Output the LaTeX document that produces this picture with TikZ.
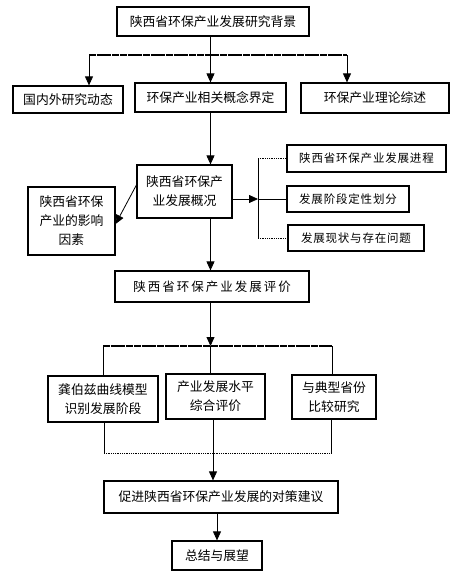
\documentclass[tikz,border=0pt]{standalone}
\usepackage{fontspec}
\newfontfamily\cjk{Noto Sans CJK SC}
\usetikzlibrary{arrows.meta}
\begin{document}
\begin{tikzpicture}[x=1pt,y=-1pt,
  box/.style={draw,line width=1.2pt,inner sep=0pt,align=center,font=\cjk\fontsize{12.8}{19}\selectfont},
  sbox/.style={box,font=\cjk\fontsize{11.5}{19}\selectfont\addfontfeature{LetterSpace=7}},
  arr/.style={-{Triangle[width=8pt,length=9pt]},line width=0.8pt},
  ln/.style={line width=0.8pt},
  busline/.style={line width=1.3pt,dash pattern=on 7pt off 0.7pt},
  dotline/.style={line width=0.8pt,densely dotted}]
\useasboundingbox (0,0) rectangle (459,579);
\node[box,minimum width=192pt,minimum height=29pt] (top) at (213,21.5) {陕西省环保产业发展研究背景};
\node[box,minimum width=110pt,minimum height=27pt] (n1) at (68,99.5) {国内外研究动态};
\node[box,minimum width=151pt,minimum height=29pt] (n2) at (210.5,97.5) {环保产业相关概念界定};
\node[box,minimum width=148pt,minimum height=30pt] (n3) at (375,98) {环保产业理论综述};
\node[box,minimum width=95pt,minimum height=53pt] (ov) at (184.5,191.5) {陕西省环保产\\业发展概况};
\node[box,minimum width=87pt,minimum height=68pt] (inf) at (71.5,221) {陕西省环保\\产业的影响\\因素};
\node[sbox,minimum width=159pt,minimum height=27pt] (r1) at (366.5,158.5) {陕西省环保产业发展进程};
\node[sbox,minimum width=122pt,minimum height=26pt] (r2) at (348,199) {发展阶段定性划分};
\node[sbox,minimum width=136pt,minimum height=26pt] (r3) at (356,238) {发展现状与存在问题};
\node[box,minimum width=194pt,minimum height=31pt,font=\cjk\fontsize{12.5}{19}\selectfont\addfontfeature{LetterSpace=16}] (ev) at (212,286.5) {陕西省环保产业发展评价};
\node[box,minimum width=110pt,minimum height=46pt] (a) at (103,399) {龚伯兹曲线模型\\识别发展阶段};
\node[box,minimum width=99pt,minimum height=45pt] (b) at (215.5,396.5) {产业发展水平\\综合评价};
\node[box,minimum width=84pt,minimum height=44pt] (c) at (334,397) {与典型省份\\比较研究};
\node[box,minimum width=234pt,minimum height=32pt] (pol) at (221,497) {促进陕西省环保产业发展的对策建议};
\node[box,minimum width=90pt,minimum height=29pt] (sum) at (217,555.5) {总结与展望};
% top bus
\coordinate (bL) at (89,55);
\coordinate (bM) at (210.5,55);
\coordinate (bR) at (347,55);
\draw[ln] (top.south -| bM) -- (bM);
\draw[busline] (bL) -- (bR);
\draw[arr] (bL) -- (n1.north -| bL);
\draw[arr] (bM) -- (n2.north -| bM);
\draw[arr] (bR) -- (n3.north -| bR);
% middle
\draw[arr] (n2.south) -- (ov.north -| n2.south);
\draw[arr] ([yshift=6.5pt]ov.west) -- ([yshift=-3pt]inf.east);
\coordinate (brk) at (258,199);
\draw[arr] (ov.east |- brk) -- (brk);
\draw[ln] (brk) -- (r2.west);
\draw[ln] (brk |- r1.west) -- (brk |- r3.west);
\draw[dotline] (brk |- r1.west) -- (r1.west);
\draw[dotline] (brk |- r3.west) -- (r3.west);
\draw[arr] (ov.south -| bM) -- (ev.north -| bM);
% evaluation bus
\coordinate (eL) at (103,346);
\coordinate (eM) at (210.5,346);
\coordinate (eR) at (332,346);
\draw[arr] (ev.south -| eM) -- (eM);
\draw[busline] (eL) -- (eR);
\draw[ln] (eL) -- (a.north -| eL);
\draw[ln] (eM) -- (b.north -| eM);
\draw[ln] (eR) -- (c.north -| eR);
% bottom bus
\coordinate (fL) at (104,453);
\coordinate (fM) at (213,453);
\coordinate (fR) at (331,453);
\draw[ln] (a.south -| fL) -- (fL);
\draw[ln] (b.south -| fM) -- (fM);
\draw[ln] (c.south -| fR) -- (fR);
\draw[dotline] (fL) -- (fR);
\draw[arr] (fM) -- (pol.north -| fM);
\draw[arr] (pol.south -| sum.north) -- (sum.north);
\end{tikzpicture}
\end{document}
